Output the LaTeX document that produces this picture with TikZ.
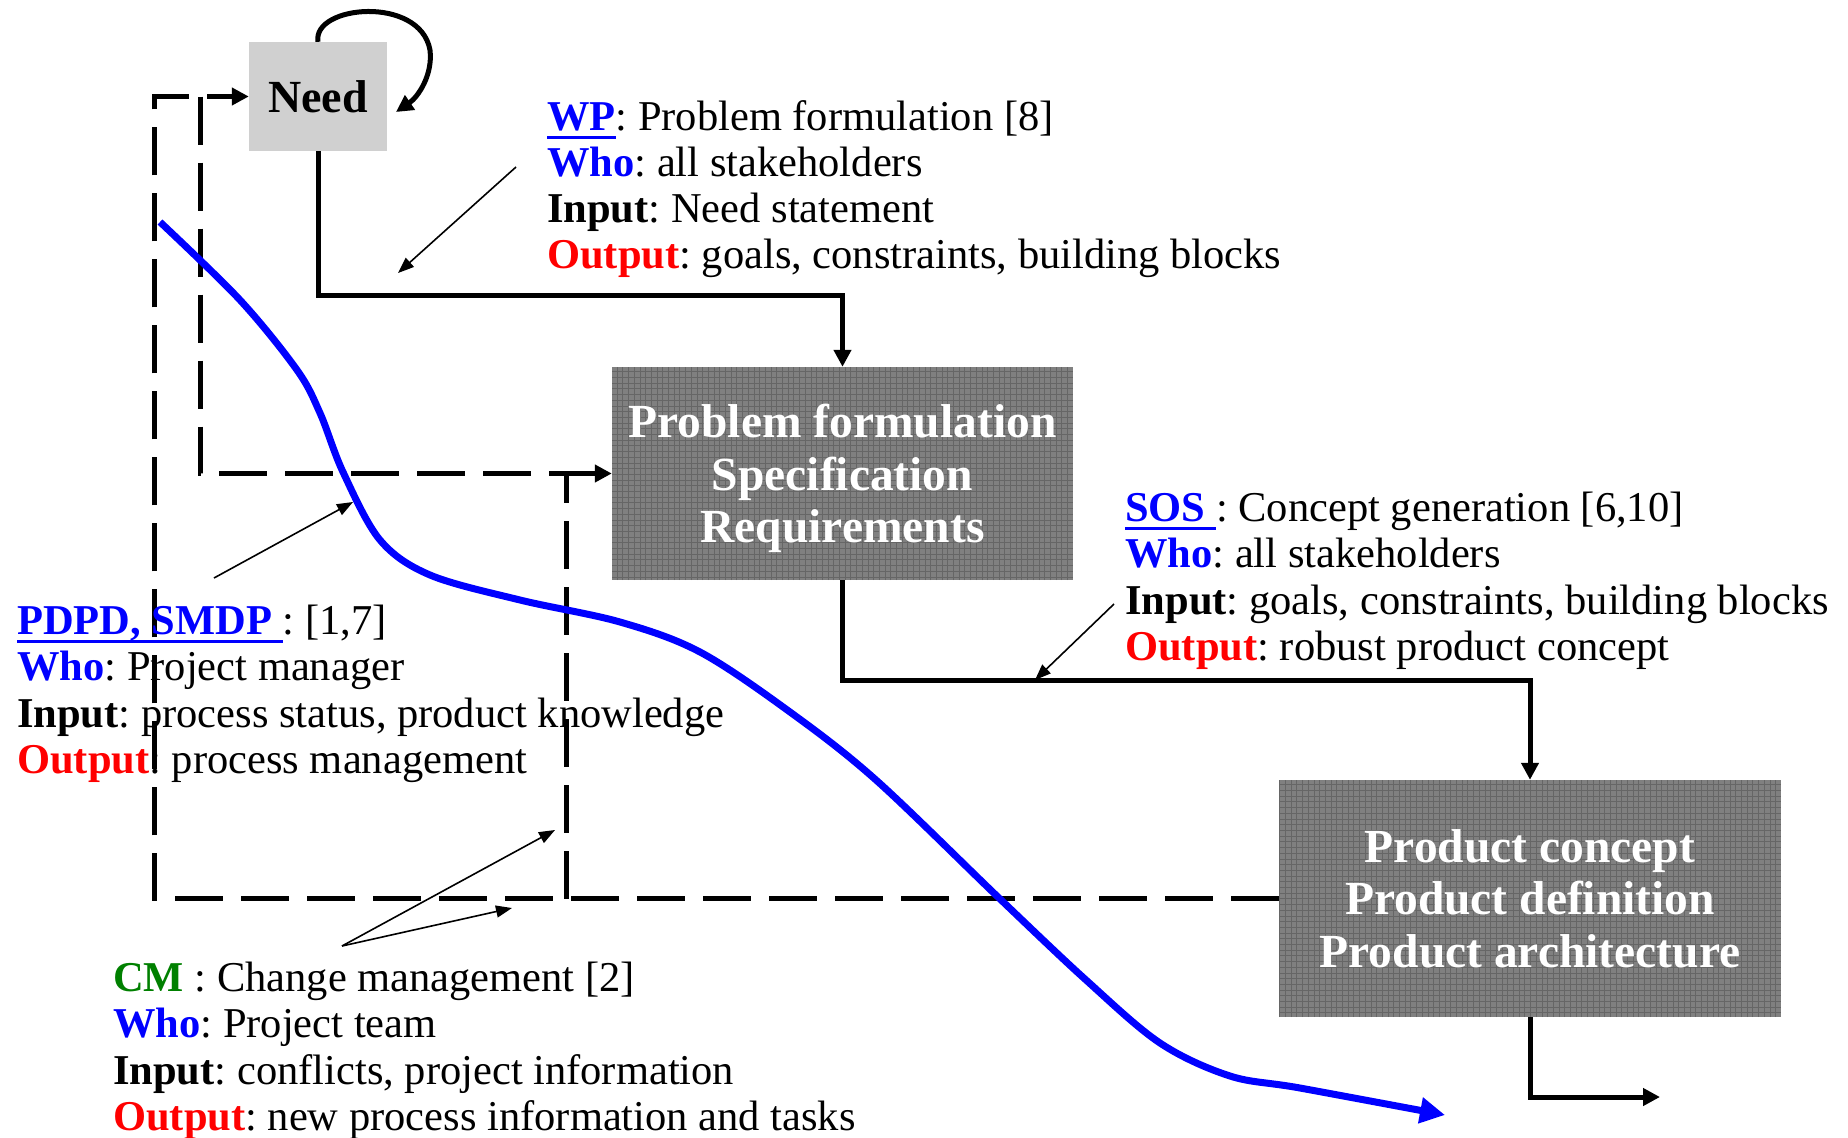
\documentclass[tikz,border=0pt]{standalone}
\usepackage{fontspec}
\setmainfont{Liberation Serif}
\usetikzlibrary{arrows.meta}
\frenchspacing

\definecolor{linkblue}{RGB}{0,0,255}
\definecolor{outred}{RGB}{255,0,0}
\definecolor{cmgreen}{RGB}{0,128,0}
\definecolor{boxdark}{RGB}{128,128,128}
\definecolor{boxlight}{RGB}{208,208,208}

% bold coloured label
\newcommand{\lbl}[2]{{\color{#1}\bfseries #2}}
% thick hyperlink-style underline
\newcommand{\linkul}[1]{\setbox0\hbox{#1}\rlap{\rule[-9pt]{\wd0}{3pt}}\box0}
% a line whose descenders do not count for vertical centring
\newcommand{\nodepth}[1]{\raisebox{0pt}[\height][0pt]{#1}}

\begin{document}
\begin{tikzpicture}[x=1pt,y=-1pt,
  txt/.style={anchor=base west, inner sep=0pt, font=\fontsize{42.5}{46}\selectfont},
  procbox/.style={fill=boxdark, inner sep=0pt, text=white, align=center,
    font=\fontsize{47.5}{52.5}\selectfont\bfseries,
    path picture={\draw[black!60, line width=0.8pt]
      (path picture bounding box.south west) grid[step=5.7pt]
      (path picture bounding box.north east);}},
  needbox/.style={fill=boxlight, inner sep=0pt, minimum width=138pt, minimum height=109pt,
    font=\fontsize{46}{50}\selectfont\bfseries},
  conn/.style={line width=5pt, -{Triangle[width=17pt,length=17pt]}},
  dashflow/.style={line width=5pt, dash pattern=on 48pt off 18pt},
  dashconn/.style={dashflow, -{Triangle[width=17pt,length=17pt]}},
  pointer/.style={line width=1.6pt, -{Triangle[width=12pt,length=16pt]}},
  trend/.style={line width=7pt, linkblue, -{Triangle[width=25pt,length=25pt]}}
]
\useasboundingbox (0,0) rectangle (1848,1138);

% process boxes
\node[needbox] (need) at (318,96.5) {Need};
\node[procbox, minimum width=461pt, minimum height=213pt] (prob) at (842.5,473.5)
  {Problem formulation\\Specification\\\nodepth{Requirements}};
\node[procbox, minimum width=502pt, minimum height=237pt] (prod) at (1530,898.5)
  {Product concept\\Product definition\\Product architecture};

% forward flow
\draw[conn] (need.south) -- ++(0,144) -| (prob.north);
\draw[conn] (prob.south) -- ++(0,100) -| (prod.north);
\coordinate (next) at (1660,1097);
\draw[conn] (prod.south) |- (next);

% iteration on the need
\coordinate (loopend) at (396,112);
\draw[conn] (need.north) .. controls (312,5) and (420,-5) .. (430,50)
  .. controls (433,75) and (418,97) .. (loopend);

% feedback loops (dashed)
\coordinate (outerx) at (154,898.5);
\coordinate (innertop) at (200,96.5);
\coordinate (branch) at (566,898.5);
\coordinate (branchtop) at (566,473.5);
\draw[dashconn] (prod.west) -- (outerx) |- (need.west);
\draw[dashconn] (innertop) |- (prob.west);
\draw[dashflow] (branch) -- (branchtop);

% project progress curve
\draw[trend] plot[smooth, tension=0.55] coordinates {
  (160,222) (240,300) (297,370) (320,413) (343,472)
  (380,540) (430,575) (520,600) (620,622) (700,652)
  (790,712) (876,780) (999,898) (1086,980) (1160,1043)
  (1230,1076) (1300,1088) (1445,1115)};

% WP annotation
\node[txt] (wp1) at (547,130) {\lbl{linkblue}{\linkul{WP}}: Problem formulation [8]};
\node[txt] (wp2) at (547,176) {\lbl{linkblue}{Who}: all stakeholders};
\node[txt] (wp3) at (547,222) {\lbl{black}{Input}: Need statement};
\node[txt] (wp4) at (547,268) {\lbl{outred}{Output}: goals, constraints, building blocks};

% SOS annotation
\node[txt] (sos1) at (1125,521) {\lbl{linkblue}{\linkul{SOS }}: Concept generation [6,10]};
\node[txt] (sos2) at (1125,567) {\lbl{linkblue}{Who}: all stakeholders};
\node[txt] (sos3) at (1125,614) {\lbl{black}{Input}: goals, constraints, building blocks};
\node[txt] (sos4) at (1125,660) {\lbl{outred}{Output}: robust product concept};

% PDPD annotation
\node[txt] (pd1) at (17,634) {\lbl{linkblue}{\linkul{PDPD, SMDP }}: [1,7]};
\node[txt] (pd2) at (17,680) {\lbl{linkblue}{Who}: Project manager};
\node[txt] (pd3) at (17,727) {\lbl{black}{Input}: process status, product knowledge};
\node[txt] (pd4) at (17,773) {\lbl{outred}{Output}: process management};

% CM annotation
\node[txt] (cm1) at (113,991) {\lbl{cmgreen}{CM} : Change management [2]};
\node[txt] (cm2) at (113,1037) {\lbl{linkblue}{Who}: Project team};
\node[txt] (cm3) at (113,1084) {\lbl{black}{Input}: conflicts, project information};
\node[txt] (cm4) at (113,1130) {\lbl{outred}{Output}: new process information and tasks};

% pointers from annotations
\coordinate (wpfrom) at (516,167);  \coordinate (wpto) at (398,273);
\coordinate (pdfrom) at (214,578);  \coordinate (pdto) at (353,502);
\coordinate (sosfrom) at (1114,604); \coordinate (sosto) at (1035,680);
\coordinate (cmfrom) at (342,946);  \coordinate (cmtoA) at (555,830);
\coordinate (cmtoB) at (512,908);
\draw[pointer] (wpfrom) -- (wpto);
\draw[pointer] (pdfrom) -- (pdto);
\draw[pointer] (sosfrom) -- (sosto);
\draw[pointer] (cmfrom) -- (cmtoA);
\draw[pointer] (cmfrom) -- (cmtoB);
\end{tikzpicture}
\end{document}
